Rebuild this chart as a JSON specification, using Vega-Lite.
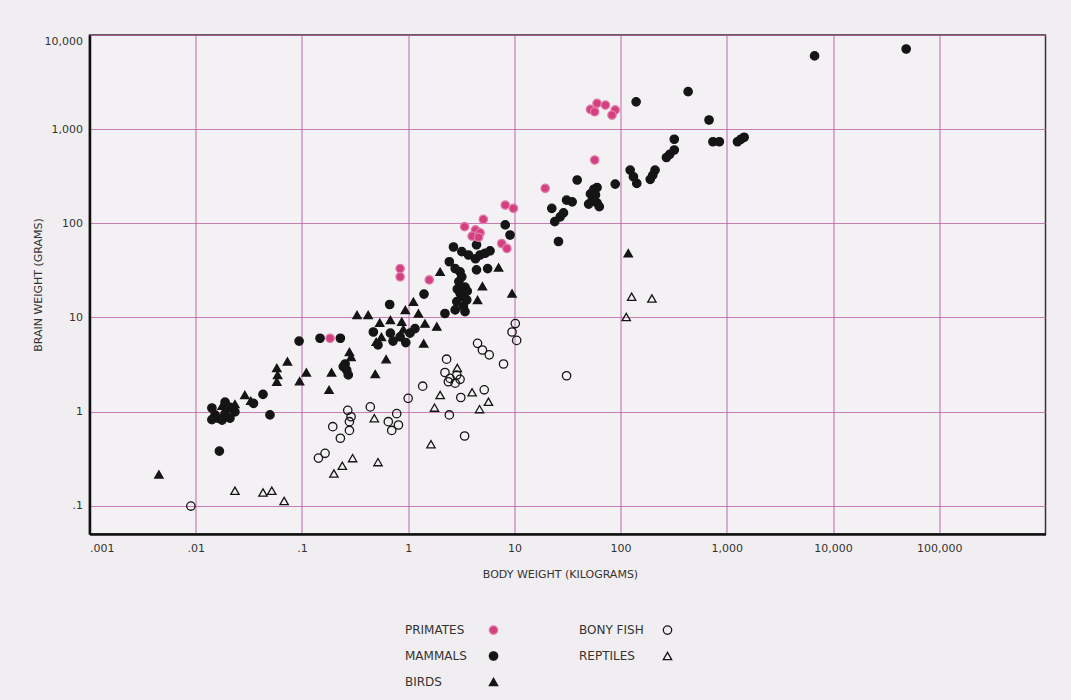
{
  "$schema": "https://vega.github.io/schema/vega-lite/v6.json",
  "width": 956,
  "height": 499,
  "autosize": {"type": "none"},
  "padding": {"left": 89.5, "top": 35, "right": 25.5, "bottom": 166},
  "background": "#f1eef1",
  "config": {
    "font": "DejaVu Sans",
    "view": {"stroke": "#333", "strokeWidth": 1.5, "fill": "#f4f1f4"},
    "legend": {
      "orient": "none",
      "legendX": 398,
      "legendY": 589,
      "columns": 2,
      "labelAlign": "left",
      "labelOffset": -94.5,
      "columnPadding": 78,
      "rowPadding": 12,
      "gridAlign": "all",
      "labelFont": "DejaVu Sans",
      "labelFontSize": 12,
      "labelColor": "#333",
      "symbolStrokeWidth": 1.3
    }
  },
  "data": {
    "values": [
      {"cls": "BONY FISH", "body": 0.009, "brain": 0.099},
      {"cls": "BONY FISH", "body": 1.0, "brain": 1.38},
      {"cls": "BONY FISH", "body": 0.27, "brain": 1.03},
      {"cls": "BONY FISH", "body": 0.29, "brain": 0.88},
      {"cls": "BONY FISH", "body": 0.28, "brain": 0.78},
      {"cls": "BONY FISH", "body": 0.44, "brain": 1.12},
      {"cls": "BONY FISH", "body": 0.78, "brain": 0.95},
      {"cls": "BONY FISH", "body": 0.65, "brain": 0.78},
      {"cls": "BONY FISH", "body": 0.70, "brain": 0.63},
      {"cls": "BONY FISH", "body": 0.81, "brain": 0.72},
      {"cls": "BONY FISH", "body": 0.195, "brain": 0.69},
      {"cls": "BONY FISH", "body": 0.23, "brain": 0.52},
      {"cls": "BONY FISH", "body": 0.28, "brain": 0.63},
      {"cls": "BONY FISH", "body": 0.143, "brain": 0.32},
      {"cls": "BONY FISH", "body": 0.165, "brain": 0.36},
      {"cls": "BONY FISH", "body": 10.2, "brain": 8.6},
      {"cls": "BONY FISH", "body": 9.5, "brain": 7.0},
      {"cls": "BONY FISH", "body": 10.5, "brain": 5.7},
      {"cls": "BONY FISH", "body": 4.5, "brain": 5.3},
      {"cls": "BONY FISH", "body": 5.0, "brain": 4.5},
      {"cls": "BONY FISH", "body": 5.8, "brain": 4.0},
      {"cls": "BONY FISH", "body": 7.9, "brain": 3.2},
      {"cls": "BONY FISH", "body": 2.3, "brain": 3.6},
      {"cls": "BONY FISH", "body": 2.22, "brain": 2.6},
      {"cls": "BONY FISH", "body": 2.48, "brain": 2.25},
      {"cls": "BONY FISH", "body": 2.77, "brain": 2.0},
      {"cls": "BONY FISH", "body": 3.08, "brain": 2.2},
      {"cls": "BONY FISH", "body": 2.39, "brain": 2.07},
      {"cls": "BONY FISH", "body": 2.87, "brain": 2.44},
      {"cls": "BONY FISH", "body": 1.37, "brain": 1.86},
      {"cls": "BONY FISH", "body": 2.44, "brain": 0.92},
      {"cls": "BONY FISH", "body": 3.13, "brain": 1.41},
      {"cls": "BONY FISH", "body": 5.2, "brain": 1.7},
      {"cls": "BONY FISH", "body": 3.4, "brain": 0.55},
      {"cls": "BONY FISH", "body": 31, "brain": 2.4},
      {"cls": "REPTILES", "body": 127, "brain": 16.6},
      {"cls": "REPTILES", "body": 197, "brain": 15.9},
      {"cls": "REPTILES", "body": 113, "brain": 10.1},
      {"cls": "REPTILES", "body": 0.48, "brain": 0.85},
      {"cls": "REPTILES", "body": 0.2, "brain": 0.22},
      {"cls": "REPTILES", "body": 0.24, "brain": 0.265},
      {"cls": "REPTILES", "body": 0.3, "brain": 0.32},
      {"cls": "REPTILES", "body": 0.52, "brain": 0.29},
      {"cls": "REPTILES", "body": 2.9, "brain": 2.9},
      {"cls": "REPTILES", "body": 2.0, "brain": 1.5},
      {"cls": "REPTILES", "body": 1.77, "brain": 1.1},
      {"cls": "REPTILES", "body": 4.0, "brain": 1.6},
      {"cls": "REPTILES", "body": 5.7, "brain": 1.27},
      {"cls": "REPTILES", "body": 4.7, "brain": 1.06},
      {"cls": "REPTILES", "body": 1.64, "brain": 0.45},
      {"cls": "REPTILES", "body": 0.0234, "brain": 0.144},
      {"cls": "REPTILES", "body": 0.043, "brain": 0.138},
      {"cls": "REPTILES", "body": 0.052, "brain": 0.144},
      {"cls": "REPTILES", "body": 0.068, "brain": 0.112},
      {"cls": "BIRDS", "body": 118, "brain": 48},
      {"cls": "BIRDS", "body": 7.1, "brain": 34},
      {"cls": "BIRDS", "body": 2.0, "brain": 30.5},
      {"cls": "BIRDS", "body": 5.0, "brain": 21.5},
      {"cls": "BIRDS", "body": 4.5, "brain": 15.3},
      {"cls": "BIRDS", "body": 9.5, "brain": 18},
      {"cls": "BIRDS", "body": 1.12, "brain": 14.7},
      {"cls": "BIRDS", "body": 1.25, "brain": 11},
      {"cls": "BIRDS", "body": 0.94, "brain": 12},
      {"cls": "BIRDS", "body": 1.44, "brain": 8.6},
      {"cls": "BIRDS", "body": 1.86, "brain": 8.0},
      {"cls": "BIRDS", "body": 1.4, "brain": 5.3},
      {"cls": "BIRDS", "body": 0.33, "brain": 10.6},
      {"cls": "BIRDS", "body": 0.42, "brain": 10.6},
      {"cls": "BIRDS", "body": 0.54, "brain": 8.8},
      {"cls": "BIRDS", "body": 0.68, "brain": 9.4},
      {"cls": "BIRDS", "body": 0.87, "brain": 9.0},
      {"cls": "BIRDS", "body": 0.56, "brain": 6.2},
      {"cls": "BIRDS", "body": 0.5, "brain": 5.5},
      {"cls": "BIRDS", "body": 0.9, "brain": 7.5},
      {"cls": "BIRDS", "body": 0.28, "brain": 4.3},
      {"cls": "BIRDS", "body": 0.29, "brain": 3.8},
      {"cls": "BIRDS", "body": 0.62, "brain": 3.6},
      {"cls": "BIRDS", "body": 0.19, "brain": 2.6},
      {"cls": "BIRDS", "body": 0.49, "brain": 2.5},
      {"cls": "BIRDS", "body": 0.11, "brain": 2.6},
      {"cls": "BIRDS", "body": 0.18, "brain": 1.7},
      {"cls": "BIRDS", "body": 0.058, "brain": 2.9},
      {"cls": "BIRDS", "body": 0.059, "brain": 2.45},
      {"cls": "BIRDS", "body": 0.058, "brain": 2.07},
      {"cls": "BIRDS", "body": 0.073, "brain": 3.4},
      {"cls": "BIRDS", "body": 0.095, "brain": 2.1},
      {"cls": "BIRDS", "body": 0.029, "brain": 1.5},
      {"cls": "BIRDS", "body": 0.033, "brain": 1.3},
      {"cls": "BIRDS", "body": 0.0177, "brain": 1.15},
      {"cls": "BIRDS", "body": 0.0234, "brain": 1.2},
      {"cls": "BIRDS", "body": 0.0045, "brain": 0.215},
      {"cls": "MAMMALS", "body": 140, "brain": 1950},
      {"cls": "MAMMALS", "body": 432, "brain": 2500},
      {"cls": "MAMMALS", "body": 680, "brain": 1250},
      {"cls": "MAMMALS", "body": 740, "brain": 735},
      {"cls": "MAMMALS", "body": 850, "brain": 735},
      {"cls": "MAMMALS", "body": 1260, "brain": 735},
      {"cls": "MAMMALS", "body": 1355, "brain": 780},
      {"cls": "MAMMALS", "body": 1455, "brain": 820},
      {"cls": "MAMMALS", "body": 320, "brain": 780},
      {"cls": "MAMMALS", "body": 320, "brain": 600},
      {"cls": "MAMMALS", "body": 290, "brain": 540},
      {"cls": "MAMMALS", "body": 270, "brain": 500},
      {"cls": "MAMMALS", "body": 211, "brain": 367},
      {"cls": "MAMMALS", "body": 201, "brain": 325},
      {"cls": "MAMMALS", "body": 190, "brain": 293},
      {"cls": "MAMMALS", "body": 123, "brain": 367},
      {"cls": "MAMMALS", "body": 132, "brain": 312},
      {"cls": "MAMMALS", "body": 142, "brain": 265},
      {"cls": "MAMMALS", "body": 89, "brain": 261},
      {"cls": "MAMMALS", "body": 39, "brain": 288},
      {"cls": "MAMMALS", "body": 56, "brain": 230},
      {"cls": "MAMMALS", "body": 60, "brain": 240},
      {"cls": "MAMMALS", "body": 52, "brain": 205},
      {"cls": "MAMMALS", "body": 58, "brain": 200},
      {"cls": "MAMMALS", "body": 54, "brain": 175},
      {"cls": "MAMMALS", "body": 60, "brain": 165},
      {"cls": "MAMMALS", "body": 50, "brain": 160},
      {"cls": "MAMMALS", "body": 63, "brain": 150},
      {"cls": "MAMMALS", "body": 31, "brain": 176},
      {"cls": "MAMMALS", "body": 35, "brain": 169},
      {"cls": "MAMMALS", "body": 22.5, "brain": 144},
      {"cls": "MAMMALS", "body": 29, "brain": 129},
      {"cls": "MAMMALS", "body": 27, "brain": 117},
      {"cls": "MAMMALS", "body": 24, "brain": 104},
      {"cls": "MAMMALS", "body": 26, "brain": 64},
      {"cls": "MAMMALS", "body": 6700, "brain": 6000},
      {"cls": "MAMMALS", "body": 48800, "brain": 7100},
      {"cls": "MAMMALS", "body": 8.2, "brain": 96},
      {"cls": "MAMMALS", "body": 9.1, "brain": 75},
      {"cls": "MAMMALS", "body": 2.67, "brain": 56},
      {"cls": "MAMMALS", "body": 3.2, "brain": 50},
      {"cls": "MAMMALS", "body": 3.7, "brain": 46},
      {"cls": "MAMMALS", "body": 4.3, "brain": 42},
      {"cls": "MAMMALS", "body": 4.75, "brain": 46},
      {"cls": "MAMMALS", "body": 5.9, "brain": 51},
      {"cls": "MAMMALS", "body": 5.3, "brain": 48},
      {"cls": "MAMMALS", "body": 4.4, "brain": 59},
      {"cls": "MAMMALS", "body": 2.44, "brain": 39},
      {"cls": "MAMMALS", "body": 2.77, "brain": 33},
      {"cls": "MAMMALS", "body": 3.08, "brain": 30.5},
      {"cls": "MAMMALS", "body": 4.4, "brain": 32},
      {"cls": "MAMMALS", "body": 5.6, "brain": 33},
      {"cls": "MAMMALS", "body": 3.2, "brain": 27},
      {"cls": "MAMMALS", "body": 3.0, "brain": 24},
      {"cls": "MAMMALS", "body": 3.43, "brain": 21},
      {"cls": "MAMMALS", "body": 2.9, "brain": 20},
      {"cls": "MAMMALS", "body": 3.6, "brain": 19},
      {"cls": "MAMMALS", "body": 3.08, "brain": 18},
      {"cls": "MAMMALS", "body": 3.3, "brain": 16.5},
      {"cls": "MAMMALS", "body": 3.56, "brain": 15.3},
      {"cls": "MAMMALS", "body": 2.87, "brain": 14.7},
      {"cls": "MAMMALS", "body": 3.31, "brain": 13},
      {"cls": "MAMMALS", "body": 2.77, "brain": 12},
      {"cls": "MAMMALS", "body": 3.43, "brain": 11.5},
      {"cls": "MAMMALS", "body": 1.41, "brain": 17.7},
      {"cls": "MAMMALS", "body": 2.22, "brain": 11},
      {"cls": "MAMMALS", "body": 0.67, "brain": 13.7},
      {"cls": "MAMMALS", "body": 0.47, "brain": 7.0},
      {"cls": "MAMMALS", "body": 0.68, "brain": 6.8},
      {"cls": "MAMMALS", "body": 0.84, "brain": 6.2},
      {"cls": "MAMMALS", "body": 1.04, "brain": 6.8},
      {"cls": "MAMMALS", "body": 1.16, "brain": 7.6},
      {"cls": "MAMMALS", "body": 0.72, "brain": 5.6},
      {"cls": "MAMMALS", "body": 0.52, "brain": 5.1},
      {"cls": "MAMMALS", "body": 0.95, "brain": 5.4},
      {"cls": "MAMMALS", "body": 0.255, "brain": 3.2},
      {"cls": "MAMMALS", "body": 0.264, "brain": 2.75},
      {"cls": "MAMMALS", "body": 0.245, "brain": 3.0},
      {"cls": "MAMMALS", "body": 0.273, "brain": 2.45},
      {"cls": "MAMMALS", "body": 0.094, "brain": 5.6},
      {"cls": "MAMMALS", "body": 0.148, "brain": 6},
      {"cls": "MAMMALS", "body": 0.23, "brain": 6},
      {"cls": "MAMMALS", "body": 0.0142, "brain": 1.09},
      {"cls": "MAMMALS", "body": 0.0162, "brain": 0.85},
      {"cls": "MAMMALS", "body": 0.0189, "brain": 1.26},
      {"cls": "MAMMALS", "body": 0.021, "brain": 1.11},
      {"cls": "MAMMALS", "body": 0.0152, "brain": 0.92},
      {"cls": "MAMMALS", "body": 0.0177, "brain": 0.81},
      {"cls": "MAMMALS", "body": 0.021, "brain": 0.85},
      {"cls": "MAMMALS", "body": 0.0234, "brain": 0.99},
      {"cls": "MAMMALS", "body": 0.0142, "brain": 0.82},
      {"cls": "MAMMALS", "body": 0.0189, "brain": 0.95},
      {"cls": "MAMMALS", "body": 0.035, "brain": 1.22},
      {"cls": "MAMMALS", "body": 0.043, "brain": 1.52},
      {"cls": "MAMMALS", "body": 0.05, "brain": 0.92},
      {"cls": "MAMMALS", "body": 0.0167, "brain": 0.38},
      {"cls": "PRIMATES", "body": 52, "brain": 1620},
      {"cls": "PRIMATES", "body": 60, "brain": 1880},
      {"cls": "PRIMATES", "body": 72, "brain": 1800},
      {"cls": "PRIMATES", "body": 89, "brain": 1600},
      {"cls": "PRIMATES", "body": 83, "brain": 1410},
      {"cls": "PRIMATES", "body": 57, "brain": 1530},
      {"cls": "PRIMATES", "body": 57, "brain": 470},
      {"cls": "PRIMATES", "body": 19.5, "brain": 235},
      {"cls": "PRIMATES", "body": 8.2, "brain": 156},
      {"cls": "PRIMATES", "body": 9.8, "brain": 144},
      {"cls": "PRIMATES", "body": 3.4, "brain": 92},
      {"cls": "PRIMATES", "body": 5.1, "brain": 110},
      {"cls": "PRIMATES", "body": 4.3, "brain": 85},
      {"cls": "PRIMATES", "body": 4.75, "brain": 79},
      {"cls": "PRIMATES", "body": 4.0, "brain": 73},
      {"cls": "PRIMATES", "body": 4.6, "brain": 71},
      {"cls": "PRIMATES", "body": 7.6, "brain": 61},
      {"cls": "PRIMATES", "body": 8.5, "brain": 54},
      {"cls": "PRIMATES", "body": 1.58, "brain": 25},
      {"cls": "PRIMATES", "body": 0.84, "brain": 33},
      {"cls": "PRIMATES", "body": 0.84, "brain": 27},
      {"cls": "PRIMATES", "body": 0.184, "brain": 6}
    ]
  },
  "mark": {"type": "point", "filled": true, "strokeWidth": 1.3, "opacity": 1},
  "encoding": {
    "x": {
      "field": "body",
      "type": "quantitative",
      "scale": {"type": "log", "domain": [0.001, 1000000], "nice": false},
      "axis": {
        "title": "BODY WEIGHT (KILOGRAMS)",
        "values": [0.001, 0.01, 0.1, 1, 10, 100, 1000, 10000, 100000],
        "labelExpr": "datum.value < 1 ? replace(toString(datum.value), '0.', '.') : format(datum.value, ',')",
        "grid": true,
        "gridColor": "#b8559f",
        "gridWidth": 1.2,
        "gridOpacity": 0.75,
        "ticks": false,
        "domainColor": "#111",
        "domainWidth": 2.5,
        "labelPadding": 8,
        "labelFont": "DejaVu Sans",
        "labelFontSize": 11,
        "labelColor": "#333",
        "labelFlush": true,
        "titleFont": "DejaVu Sans",
        "titleFontSize": 11,
        "titleFontWeight": "normal",
        "titleColor": "#333",
        "titleX": 470.5,
        "titleY": 40,
        "titleBaseline": "middle"
      }
    },
    "y": {
      "field": "brain",
      "type": "quantitative",
      "scale": {"type": "log", "domain": [0.05, 10000], "nice": false},
      "axis": {
        "title": "BRAIN WEIGHT (GRAMS)",
        "values": [0.1, 1, 10, 100, 1000, 10000],
        "labelExpr": "datum.value < 1 ? replace(toString(datum.value), '0.', '.') : format(datum.value, ',')",
        "grid": true,
        "gridColor": "#b8559f",
        "gridWidth": 1.2,
        "gridOpacity": 0.75,
        "ticks": false,
        "domainColor": "#111",
        "domainWidth": 2.5,
        "labelPadding": 7,
        "labelFont": "DejaVu Sans",
        "labelFontSize": 11,
        "labelColor": "#333",
        "labelFlush": true,
        "titleFont": "DejaVu Sans",
        "titleFontSize": 11,
        "titleFontWeight": "normal",
        "titleColor": "#333",
        "titleX": -51,
        "titleY": 249.5,
        "titleAngle": -90,
        "titleBaseline": "middle",
        "titleAlign": "center"
      }
    },
    "shape": {
      "field": "cls",
      "type": "nominal",
      "title": null,
      "scale": {
        "domain": ["PRIMATES", "MAMMALS", "BIRDS", "BONY FISH", "REPTILES"],
        "range": ["circle", "circle", "triangle-up", "circle", "triangle-up"]
      }
    },
    "fill": {
      "field": "cls",
      "type": "nominal",
      "title": null,
      "scale": {
        "domain": ["PRIMATES", "MAMMALS", "BIRDS", "BONY FISH", "REPTILES"],
        "range": ["#d4407f", "#151515", "#151515", "transparent", "transparent"]
      }
    },
    "stroke": {
      "field": "cls",
      "type": "nominal",
      "title": null,
      "scale": {
        "domain": ["PRIMATES", "MAMMALS", "BIRDS", "BONY FISH", "REPTILES"],
        "range": ["#e07aa8", "#151515", "#151515", "#151515", "#151515"]
      }
    },
    "size": {
      "field": "cls",
      "type": "nominal",
      "title": null,
      "scale": {
        "domain": ["PRIMATES", "MAMMALS", "BIRDS", "BONY FISH", "REPTILES"],
        "range": [70, 70, 60, 55, 40]
      }
    }
  }
}
